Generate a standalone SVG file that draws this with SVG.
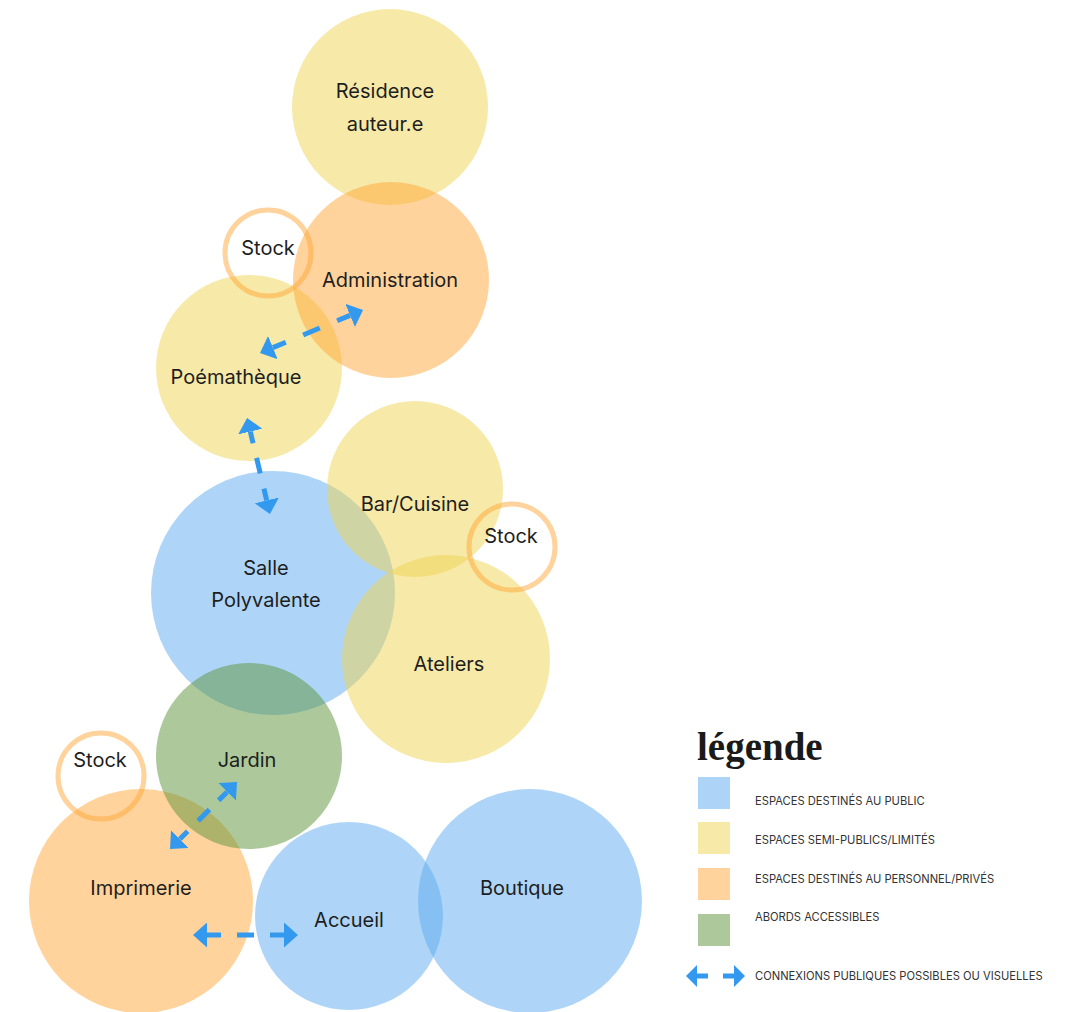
<svg xmlns="http://www.w3.org/2000/svg" width="1065" height="1012" viewBox="0 0 1065 1012">
<style>
.pub{fill:#5eabef;fill-opacity:.5}
.semi{fill:#efd351;fill-opacity:.5}
.priv{fill:#ffa737;fill-opacity:.5}
.ext{fill:#5b9339;fill-opacity:.5}
.stock{fill:none;stroke:#ffa737;stroke-opacity:.5;stroke-width:5}
.lbl{font-family:Inter,"Noto Sans",sans-serif;font-size:20px;fill:#1e1e1e;text-anchor:middle}
.leg{font-family:Inter,"Liberation Sans",sans-serif;font-size:11.2px;fill:#333}
.con{stroke:#3399ee;stroke-width:5;fill:none}
</style>
<defs>
<marker id="ah" viewBox="0 0 14 25" refX="0" refY="12.5" markerWidth="14" markerHeight="25" orient="auto-start-reverse" markerUnits="userSpaceOnUse">
<path d="M0,0 L14,12.5 L0,25 z" fill="#3399ee"/>
</marker>
<marker id="ahs" viewBox="0 0 11 22" refX="0" refY="11" markerWidth="11" markerHeight="22" orient="auto-start-reverse" markerUnits="userSpaceOnUse">
<path d="M0,0 L11,11 L0,22 z" fill="#3399ee"/>
</marker>
</defs>
<rect width="1065" height="1012" fill="#fff"/>
<g id="residence"><circle class="semi" cx="390" cy="107" r="98"/></g>
<g id="poematheque"><circle class="semi" cx="249" cy="368" r="93"/></g>
<g id="administration"><circle class="priv" cx="391" cy="280" r="98"/></g>
<g id="salle"><circle class="pub" cx="273" cy="593" r="122"/></g>
<g id="bar"><circle class="semi" cx="415" cy="489" r="88"/></g>
<g id="ateliers"><circle class="semi" cx="446" cy="659" r="104"/></g>
<g id="imprimerie"><circle class="priv" cx="141" cy="901" r="112"/></g>
<g id="jardin"><circle class="ext" cx="249" cy="756" r="93"/></g>
<g id="accueil"><circle class="pub" cx="349" cy="916" r="94"/></g>
<g id="boutique"><circle class="pub" cx="530" cy="901" r="112"/></g>
<g id="stock1"><circle class="stock" cx="268" cy="253" r="43"/></g>
<g id="stock2"><circle class="stock" cx="512" cy="547" r="43"/></g>
<g id="stock3"><circle class="stock" cx="101" cy="776" r="43"/></g>
<g id="labels">
<text class="lbl" x="385" y="98">Résidence</text>
<text class="lbl" x="385" y="131">auteur.e</text>
<text class="lbl" x="268" y="255">Stock</text>
<text class="lbl" x="390" y="287">Administration</text>
<text class="lbl" x="236" y="384">Poémathèque</text>
<text class="lbl" x="415" y="511">Bar/Cuisine</text>
<text class="lbl" x="511" y="543">Stock</text>
<text class="lbl" x="266" y="575">Salle</text>
<text class="lbl" x="266" y="607">Polyvalente</text>
<text class="lbl" x="449" y="671">Ateliers</text>
<text class="lbl" x="247" y="767">Jardin</text>
<text class="lbl" x="100" y="767">Stock</text>
<text class="lbl" x="141" y="895">Imprimerie</text>
<text class="lbl" x="522" y="895">Boutique</text>
<text class="lbl" x="349" y="927">Accueil</text>
</g>
<g id="connectors">
<line class="con" x1="272.9" y1="347.6" x2="350.1" y2="315.4" stroke-dasharray="14 18.8 18 18.8 14" marker-start="url(#ah)" marker-end="url(#ah)"/>
<line class="con" x1="250.3" y1="431.6" x2="266.7" y2="500.4" stroke-dasharray="12 15 16 15.7 12" marker-start="url(#ah)" marker-end="url(#ah)"/>
<line class="con" x1="227.1" y1="791.9" x2="179.9" y2="839.1" stroke-dasharray="12 13 16 14.8 11" marker-start="url(#ah)" marker-end="url(#ah)"/>
<line class="con" x1="207" y1="935" x2="284" y2="935" stroke-dasharray="14 16 17 16 14" marker-start="url(#ah)" marker-end="url(#ah)"/>
</g>
<g id="legend">
<text x="697" y="760" font-family="'Liberation Serif','DejaVu Serif',serif" font-weight="bold" font-size="39" fill="#1a1a1a">légende</text>
<rect x="698" y="777" width="32" height="32" fill="#add4f7"/>
<rect x="698" y="822" width="32" height="32" fill="#f7e9a8"/>
<rect x="698" y="868" width="32" height="32" fill="#ffd39b"/>
<rect x="698" y="914" width="32" height="32" fill="#adc99c"/>
<text class="leg" x="755" y="805">ESPACES DESTINÉS AU PUBLIC</text>
<text class="leg" x="755" y="844">ESPACES SEMI-PUBLICS/LIMITÉS</text>
<text class="leg" x="755" y="883">ESPACES DESTINÉS AU PERSONNEL/PRIVÉS</text>
<text class="leg" x="755" y="921">ABORDS ACCESSIBLES</text>
<text class="leg" x="755" y="980">CONNEXIONS PUBLIQUES POSSIBLES OU VISUELLES</text>
<line class="con" x1="697" y1="976" x2="734" y2="976" stroke-dasharray="11 15 11" marker-start="url(#ahs)" marker-end="url(#ahs)"/>
</g>
</svg>
